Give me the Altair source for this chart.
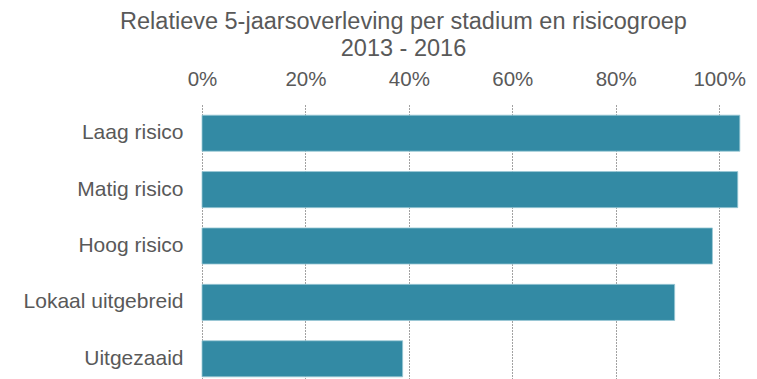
import altair as alt
import pandas as pd

categories = ["Laag risico", "Matig risico", "Hoog risico", "Lokaal uitgebreid", "Uitgezaaid"]
values = [1.040, 1.036, 0.987, 0.914, 0.388]
tick_values = [0, 0.2, 0.4, 0.6, 0.8, 1.0]

df = pd.DataFrame({"groep": categories, "overleving": values})

FONT = "Liberation Sans"
GREY = "#595959"

chart = (
    alt.Chart(df)
    .mark_bar(color="#338aa4", stroke="#9cc9d6", strokeWidth=0.8)
    .encode(
        x=alt.X(
            "overleving:Q",
            scale=alt.Scale(domain=[0, 1.05], nice=False),
            axis=alt.Axis(
                orient="top",
                format=".0%",
                values=tick_values,
                title=None,
                ticks=False,
                domain=False,
                grid=True,
                gridDash=[1, 2],
                gridColor="#444444",
                gridWidth=1,
                labelFont=FONT,
                labelFontSize=20.5,
                labelColor=GREY,
                labelPadding=16,
                labelFlush=False,
            ),
        ),
        y=alt.Y(
            "groep:N",
            sort=categories,
            scale=alt.Scale(paddingInner=0.36, paddingOuter=0.18),
            axis=alt.Axis(
                title=None,
                ticks=False,
                domain=False,
                labelFont=FONT,
                labelFontSize=21,
                labelColor=GREY,
                labelPadding=19,
            ),
        ),
    )
    .properties(
        width=543,
        height=282,
        title=alt.TitleParams(
            text=["Relatieve 5-jaarsoverleving per stadium en risicogroep", "2013 - 2016"],
            font=FONT,
            fontSize=23.5,
            fontWeight="normal",
            color=GREY,
            anchor="middle",
            frame="group",
            dx=-70,
            offset=9,
            lineHeight=27,
        ),
        autosize=alt.AutoSizeParams(type="none"),
        padding={"left": 202, "top": 105, "right": 12, "bottom": 0},
    )
    .configure_view(stroke=None)
)

chart.save("out.html", embed_options={"renderer": "svg", "actions": False})
